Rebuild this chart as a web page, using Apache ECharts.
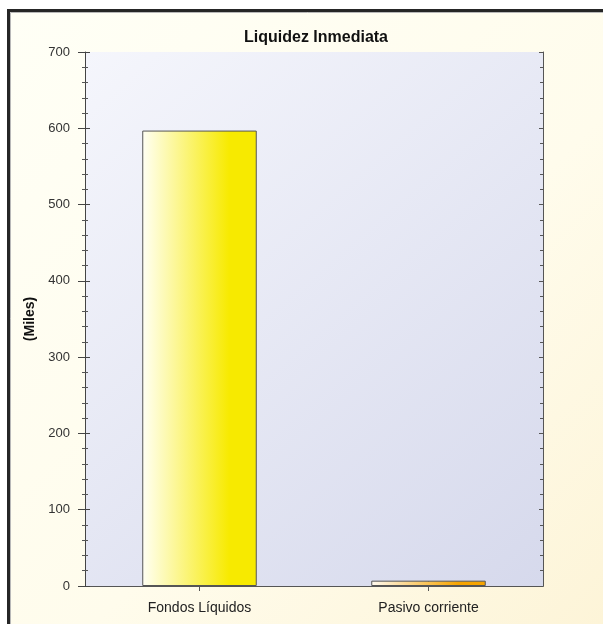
<!DOCTYPE html>
<html>
<head>
<meta charset="utf-8">
<script src="https://cdn.jsdelivr.net/npm/echarts@6/dist/echarts.min.js"></script>
<style>
html,body{margin:0;padding:0;background:#ffffff;}
#chart{width:603px;height:624px;}
</style>
</head>
<body>
<div id="chart"></div>
<script>
var categories = ['Fondos Líquidos', 'Pasivo corriente'];
var values = [597, 7];
var barColors = [['#fffff4', '#f7ea00'], ['#fffaf0', '#f6a400']];
var yMin = 0, yMax = 700, yInterval = 100;
var titleText = 'Liquidez Inmediata';
var yName = '(Miles)';

var chart = echarts.init(document.getElementById('chart'), null, {renderer: 'canvas'});
var font = 'Liberation Sans, Arial, sans-serif';

function barGrad(c) {
  return new echarts.graphic.LinearGradient(0, 0, 1, 0, [
    {offset: 0, color: c[0]},
    {offset: 0.76, color: c[1]},
    {offset: 1, color: c[1]}
  ]);
}

var option = {
  animation: false,
  title: {
    text: titleText,
    left: 311, textAlign: 'center', top: 25,
    textStyle: {fontFamily: font, fontSize: 16, fontWeight: 'bold', color: '#111'}
  },
  graphic: [
    {type: 'rect', z: -100, silent: true,
     shape: {x: 8.5, y: 10.5, width: 700, height: 700},
     style: {
       fill: new echarts.graphic.LinearGradient(0, 0, 1, 1, [
         {offset: 0, color: '#fffff6'}, {offset: 0.5, color: '#fffcec'}, {offset: 1, color: '#fcf1d0'}
       ]),
       stroke: '#262626', lineWidth: 3
     }},
    {type: 'rect', z: -99, silent: true,
     shape: {x: 10.5, y: 12.5, width: 700, height: 700},
     style: {fill: 'none', stroke: '#b8b8b8', lineWidth: 1}}
  ],
  grid: {
    left: 85, right: 60, top: 52, bottom: 38,
    show: true, borderWidth: 0,
    backgroundColor: new echarts.graphic.LinearGradient(0, 0, 1, 1, [
      {offset: 0, color: '#f5f6fc'}, {offset: 1, color: '#d6d9ec'}
    ])
  },
  xAxis: [
    {type: 'category', data: categories, position: 'bottom',
     axisLine: {show: true, lineStyle: {color: '#444', width: 1}},
     axisTick: {show: true, alignWithLabel: true, length: 5, lineStyle: {color: '#444'}},
     axisLabel: {margin: 15, fontFamily: font, fontSize: 14, color: '#222'}},
    {type: 'category', data: categories, position: 'top',
     axisLine: {show: true, lineStyle: {color: '#555', width: 1}},
     axisTick: {show: true, inside: true, alignWithLabel: true, length: 5, lineStyle: {color: '#555'}},
     axisLabel: {show: false}},
    {type: 'category', data: categories, position: 'bottom',
     axisLine: {show: false},
     axisTick: {show: true, inside: true, alignWithLabel: true, length: 5, lineStyle: {color: '#444'}},
     axisLabel: {show: false}}
  ],
  yAxis: [
    {type: 'value', min: yMin, max: yMax, interval: yInterval, position: 'left',
     name: yName, nameLocation: 'middle', nameRotate: 90, nameGap: 48,
     nameTextStyle: {fontFamily: font, fontSize: 14, fontWeight: 'bold', color: '#111'},
     axisLine: {show: true, lineStyle: {color: '#444', width: 1}},
     axisTick: {show: true, length: 7, lineStyle: {color: '#444'}},
     minorTick: {show: true, splitNumber: 5, length: 3, lineStyle: {color: '#555'}},
     splitLine: {show: false},
     axisLabel: {margin: 15, fontFamily: font, fontSize: 13, color: '#333'}},
    {type: 'value', min: yMin, max: yMax, interval: yInterval, position: 'right',
     axisLine: {show: true, lineStyle: {color: '#555', width: 1}},
     axisTick: {show: true, inside: true, length: 4, lineStyle: {color: '#555'}},
     minorTick: {show: true, splitNumber: 5, length: 3, lineStyle: {color: '#555'}},
     splitLine: {show: false},
     axisLabel: {show: false}},
    {type: 'value', min: yMin, max: yMax, interval: yInterval, position: 'left',
     axisLine: {show: false},
     axisTick: {show: true, inside: true, length: 5, lineStyle: {color: '#444'}},
     minorTick: {show: true, splitNumber: 5, length: 3, lineStyle: {color: '#555'}},
     splitLine: {show: false},
     axisLabel: {show: false}}
  ],
  series: [{
    type: 'bar', xAxisIndex: 0, yAxisIndex: 0,
    barWidth: '50%',
    data: values.map(function (v, i) {
      return {value: v, itemStyle: {color: barGrad(barColors[i]), borderColor: '#555', borderWidth: 1}};
    })
  }]
};
chart.setOption(option);
</script>
</body>
</html>
